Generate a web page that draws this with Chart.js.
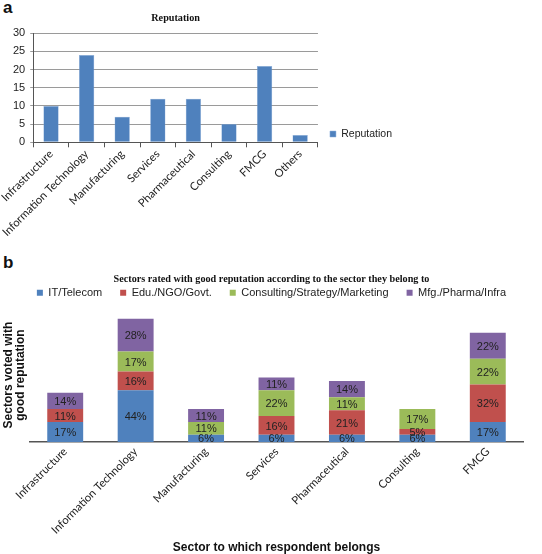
<!DOCTYPE html>
<html>
<head>
<meta charset="utf-8">
<script src="https://cdn.jsdelivr.net/npm/chart.js@4.4.1/dist/chart.umd.min.js"></script>
<style>
  body { margin: 0; background: #fff; }
  .painel { position: absolute; left: 0; width: 542px; }
  .letra { position: absolute; left: 3px; font: bold 17px "Liberation Sans", Arial, sans-serif; color: #111; }
</style>
</head>
<body>
<div class="letra" style="top:-2px">a</div>
<div class="painel" style="top:0;height:239px"><canvas id="grafico_reputacao"></canvas></div>
<div class="letra" style="top:253px">b</div>
<div class="painel" style="top:250px;height:304px"><canvas id="grafico_setores"></canvas></div>

<script>
// Dados

const setores_a = ['Infrastructure', 'Information Technology', 'Manufacturing', 'Services',
                   'Pharmaceutical', 'Consulting', 'FMCG', 'Others'];
const reputacao = [10, 24, 7, 12, 12, 5, 21, 2];
const ticks_a = [0, 5, 10, 15, 20, 25, 30];

const setores_b = ['Infrastructure', 'Information Technology', 'Manufacturing', 'Services',
                   'Pharmaceutical', 'Consulting', 'FMCG'];
const it_telecom = [17, 44, 6, 6, 6, 6, 17];
const edu_ngo_govt = [11, 16, 0, 16, 21, 5, 32];
const consulting_strategy = [0, 17, 11, 22, 11, 17, 22];
const mfg_pharma_infra = [14, 28, 11, 11, 14, 0, 22];

const cores = ['#4F81BD', '#C0504D', '#9BBB59', '#8064A2'];

const sans = '"Liberation Sans", Arial, sans-serif';
const serif = '"Liberation Serif", "Times New Roman", serif';
const rotulos = 'Lato, "Open Sans", sans-serif';

// Parte A

// afasta a legenda um pouco do gráfico
const afasta_legenda = {
    id: 'afasta_legenda',
    afterLayout(chart) {
        chart.legend.left += 9;
        chart.legend.right += 9;
    }
};

function grafico_reputacao() {
    const ctx = document.getElementById('grafico_reputacao').getContext('2d');
    new Chart(ctx, {
        type: 'bar',
        data: {
            labels: setores_a,
            datasets: [{
                label: 'Reputation',
                data: reputacao,
                backgroundColor: cores[0],
                borderColor: '#8fb0dc',
                borderWidth: 0.5,
                categoryPercentage: 1,
                barPercentage: 0.43
            }]
        },
        plugins: [afasta_legenda],
        options: {
            responsive: true,
            maintainAspectRatio: false,
            animation: false,
            layout: { autoPadding: false, padding: { left: 8, right: 149, top: 0, bottom: 0 } },
            plugins: {
                title: {
                    display: true,
                    text: 'Reputation',
                    fullSize: false,
                    color: '#111',
                    font: { family: serif, size: 10.2, weight: 'bold' },
                    padding: { top: 12, bottom: 9 }
                },
                legend: {
                    position: 'right',
                    align: 'end',
                    fullSize: false,
                    labels: {
                        boxWidth: 6,
                        boxHeight: 6,
                        color: '#222',
                        font: { family: sans, size: 10.5 },
                        padding: 3
                    }
                },
                tooltip: { enabled: false }
            },
            scales: {
                x: {
                    grid: { drawOnChartArea: false, drawTicks: true, tickLength: 5, color: '#555', offset: true },
                    border: { display: true, color: '#555' },
                    ticks: {
                        minRotation: 45, maxRotation: 45,
                        color: '#222',
                        font: { family: rotulos, size: 11.2 },
                        padding: 0
                    }
                },
                y: {
                    min: 0,
                    max: 30,
                    afterBuildTicks: (eixo) => { eixo.ticks = ticks_a.map(v => ({ value: v })); },
                    grid: { color: '#9a9a9a', tickLength: 3 },
                    border: { display: true, color: '#555' },
                    ticks: {
                        color: '#222',
                        font: { family: sans, size: 11 },
                        padding: 5
                    }
                }
            }
        }
    });
}

// Parte B

const rotulos_pct = {
    id: 'rotulos_pct',
    afterDatasetsDraw(chart) {
        const ctx = chart.ctx;
        ctx.save();
        ctx.font = '11px ' + sans;
        ctx.fillStyle = '#222';
        ctx.textAlign = 'center';
        ctx.textBaseline = 'middle';
        chart.data.datasets.forEach((ds, i) => {
            const meta = chart.getDatasetMeta(i);
            meta.data.forEach((barra, j) => {
                const v = ds.data[j];
                if (!v) return;
                const p = barra.getProps(['x', 'y', 'base'], true);
                ctx.fillText(v + '%', p.x, (p.y + p.base) / 2 + 1);
            });
        });
        ctx.restore();
    }
};

function grafico_setores() {
    const ctx = document.getElementById('grafico_setores').getContext('2d');
    const series = [
        ['IT/Telecom', it_telecom],
        ['Edu./NGO/Govt.', edu_ngo_govt],
        ['Consulting/Strategy/Marketing', consulting_strategy],
        ['Mfg./Pharma/Infra', mfg_pharma_infra]
    ];
    const datasets = series.map((s, index) => ({
        label: s[0],
        data: s[1],
        backgroundColor: cores[index],
        borderWidth: 0,
        categoryPercentage: 1,
        barPercentage: 0.51
    }));

    new Chart(ctx, {
        type: 'bar',
        data: { labels: setores_b, datasets: datasets },
        plugins: [rotulos_pct],
        options: {
            responsive: true,
            maintainAspectRatio: false,
            animation: false,
            layout: { autoPadding: false, padding: { left: 1, right: 0, top: 0, bottom: 0 } },
            plugins: {
                title: {
                    display: true,
                    text: 'Sectors rated with good reputation according to the sector they belong to',
                    color: '#111',
                    font: { family: serif, size: 10.2, weight: 'bold' },
                    padding: { top: 23, bottom: -16 }
                },
                legend: {
                    position: 'top',
                    labels: {
                        boxWidth: 6,
                        boxHeight: 6,
                        color: '#222',
                        font: { family: sans, size: 11 },
                        padding: 18
                    }
                },
                tooltip: { enabled: false }
            },
            scales: {
                x: {
                    stacked: true,
                    grid: { display: false },
                    border: { display: true, color: '#555', width: 1.5 },
                    ticks: {
                        minRotation: 45, maxRotation: 45,
                        color: '#222',
                        font: { family: rotulos, size: 11.2 },
                        padding: -5
                    },
                    title: {
                        display: true,
                        text: 'Sector to which respondent belongs',
                        color: '#111',
                        font: { family: sans, size: 12, weight: 'bold' },
                        padding: { top: 9, bottom: -1 }
                    }
                },
                y: {
                    stacked: true,
                    min: 0,
                    max: 114,
                    grid: { display: false },
                    border: { display: false },
                    ticks: { display: false },
                    title: {
                        display: true,
                        text: ['Sectors voted with', 'good reputation'],
                        color: '#111',
                        font: { family: sans, size: 12, weight: 'bold', lineHeight: 1.0 },
                        padding: { top: 2, bottom: 3 }
                    },
                    afterFit: (eixo) => { eixo.width = 29; }
                },
                // margem da direita, para o título e a legenda ficarem no centro da página
                margem: {
                    type: 'linear',
                    position: 'right',
                    display: true,
                    grid: { display: false },
                    border: { display: false },
                    ticks: { display: false },
                    afterFit: (eixo) => { eixo.width = 19; }
                }
            }
        }
    });
}

grafico_reputacao();
grafico_setores();
</script>
</body>
</html>
